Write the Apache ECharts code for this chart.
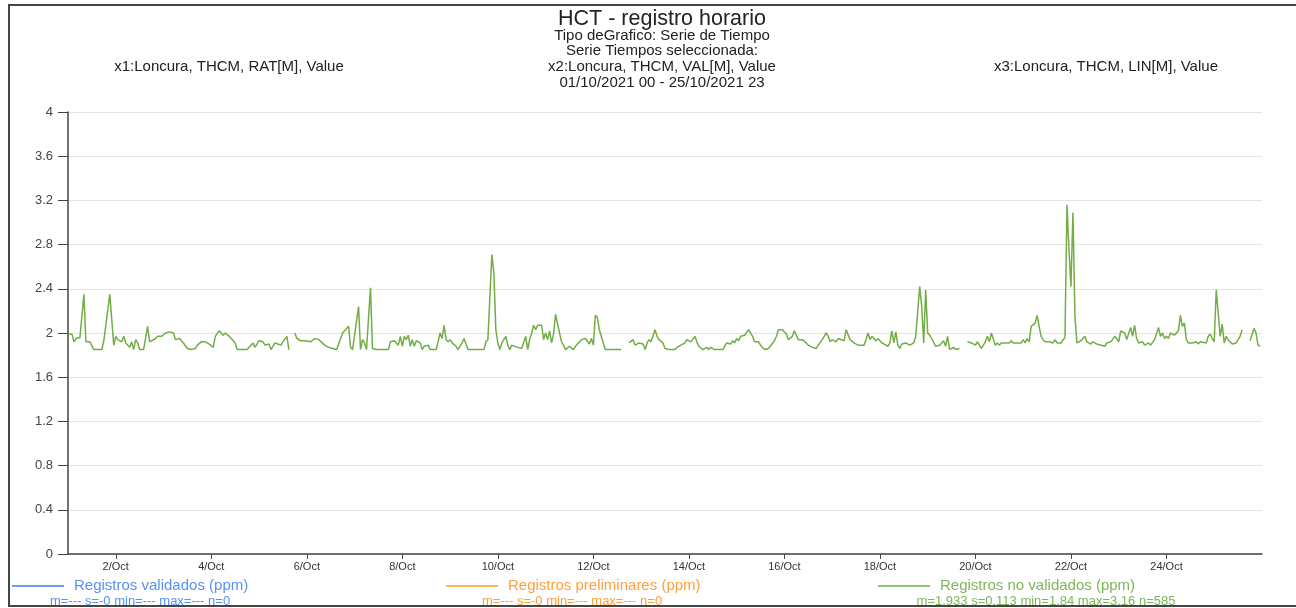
<!DOCTYPE html>
<html>
<head>
<meta charset="utf-8">
<script src="https://cdn.jsdelivr.net/npm/echarts@6/dist/echarts.min.js"></script>
<style>
html,body{margin:0;padding:0;background:#ffffff;}
#chart{width:1296px;height:608px;}
</style>
</head>
<body>
<div id="chart"></div>
<script>
// Hours since 01/10/2021 00:00 (null value = gap in the record)
const hours = [0,2,3,4,5,6,8,9,11,13,17,18,21,23,24,25,26,27,28,29,30,31,32,33,34,35,36,38,40,41,42,44,45,47,48,49,51,53,54,56,58,60,62,64,65,67,69,71,73,74,76,78,79,81,82,84,85,90,91,93,94,96,98,99,101,102,104,105,107,108,110,111,112,
114,115,117,119,120,122,124,126,127,129,131,132,133,135,136,138,139,141,142,143,144,146,147,148,149,150,152,153,155,161,162,164,165,166,167,168,169,170,171,172,173,174,175,177,178,179,180,181,182,185,186,187,188,189,190,191,192,193,194,195,196,198,199,200,201,209,210,211,213,214,215,216,217,218,220,221,222,223,224,226,227,228,230,231,232,233,234,235,236,238,239,240,241,242,243,244,245,247,248,249,250,252,253,254,255,256,258,259,260,262,263,264,265,266,267,269,270,278,279,
282,283,284,285,287,288,289,290,291,292,293,295,296,297,299,300,302,305,306,307,308,310,311,312,313,315,316,317,318,319,321,322,323,324,325,329,330,331,333,334,335,336,337,338,339,340,341,342,344,345,347,348,350,352,353,355,356,357,359,360,361,362,364,365,367,368,369,371,372,374,376,377,379,381,382,383,384,386,387,388,390,391,393,394,395,397,398,400,401,402,403,404,406,407,408,409,410,412,413,414,415,416,417,418,419,421,423,425,426,427,428,429,430,431,432,433,434,436,437,438,439,440,441,442,443,444,445,446,447,448,449,
452,454,455,456,457,458,459,460,461,462,463,464,465,466,467,468,469,471,473,474,475,477,479,480,481,482,483,484,485,486,487,488,489,490,491,493,495,496,497,499,500,501,502,503,504,505,506,507,508,509,510,511,512,513,514,515,517,518,519,521,522,523,524,526,527,528,529,531,532,533,534,535,536,537,538,540,541,543,544,546,547,548,549,550,551,552,553,554,556,557,558,559,560,561,562,563,565,567,568,569,570,572,573,574,575,576,577,579,580,581,582,583,584,585,587,588,589,590,591,
594,596,597,598,599];

const noValidados = [1.99,1.99,1.92,1.95,1.955,1.96,2.35,1.92,1.92,1.85,1.85,1.93,2.35,1.89,1.97,1.94,1.95,1.92,1.97,1.91,1.92,1.87,1.92,1.85,1.94,1.91,1.85,1.85,2.06,1.92,1.93,1.95,1.97,1.97,1.98,2.0,2.01,2.0,1.94,1.95,1.91,1.86,1.85,1.86,1.89,1.92,1.92,1.90,1.87,1.97,2.02,1.98,2.0,1.97,1.97,1.91,1.85,1.85,1.87,1.91,1.87,1.93,1.92,1.89,1.90,1.85,1.91,1.92,1.89,1.92,1.97,1.85,null,
2.0,1.95,1.93,1.93,1.93,1.92,1.95,1.94,1.93,1.89,1.87,1.88,1.86,1.85,1.85,2.0,2.0,2.06,1.87,1.85,1.85,2.24,1.85,1.94,1.91,1.85,2.41,1.86,1.85,1.85,1.92,1.93,1.94,1.89,1.97,1.88,1.97,1.94,1.98,1.88,1.94,1.88,1.93,1.91,1.85,1.88,1.87,1.89,1.85,1.85,1.92,2.0,1.95,2.07,1.94,1.92,1.94,1.91,1.92,1.88,1.85,1.91,1.95,1.96,1.85,1.85,1.92,1.94,2.71,2.54,2.03,1.91,1.85,1.91,1.97,1.89,1.85,1.89,1.88,1.87,1.88,1.86,1.97,1.85,1.94,2.0,2.07,2.03,2.07,2.07,1.94,2.0,1.94,2.02,1.91,1.99,2.17,2.0,1.92,1.89,1.85,1.88,1.89,1.85,1.88,1.89,1.94,1.94,1.95,1.90,1.95,1.89,2.16,2.14,2.03,1.91,1.85,1.85,null,
1.91,1.92,1.94,1.89,1.91,1.90,1.90,1.85,1.91,1.94,1.92,2.03,1.97,1.94,1.91,1.86,1.85,1.85,1.87,1.87,1.89,1.91,1.94,1.94,1.92,1.97,1.92,1.88,1.89,1.85,1.87,1.85,1.87,1.88,1.85,1.85,1.88,1.91,1.90,1.93,1.91,1.95,1.93,1.97,1.96,1.98,1.97,2.03,1.97,1.92,1.92,1.89,1.85,1.86,1.87,1.93,1.97,2.03,2.03,2.01,1.99,1.94,1.97,2.02,1.94,1.95,1.94,1.91,1.89,1.87,1.86,1.89,1.94,2.0,1.97,1.92,1.94,1.92,1.95,1.94,1.93,2.03,1.94,1.93,1.91,1.89,1.90,1.89,1.94,2.0,1.94,1.97,1.93,1.95,1.94,1.91,1.90,1.88,1.91,2.02,1.91,2.01,1.89,1.86,1.90,1.91,1.89,1.91,1.97,1.97,2.42,2.24,1.91,2.39,2.0,1.98,1.95,1.88,1.87,1.89,1.88,1.93,1.88,1.97,1.85,1.86,1.87,1.85,1.86,1.86,null,
1.92,1.91,1.92,1.89,1.92,1.89,1.86,1.89,1.92,1.97,1.92,2.0,2.01,1.89,1.91,1.89,1.91,1.91,1.91,1.93,1.91,1.91,1.91,1.94,1.91,1.95,1.92,2.06,2.06,2.09,2.16,2.06,1.97,1.94,1.92,1.92,1.91,1.94,1.91,1.91,1.92,1.96,3.16,2.75,2.42,3.09,2.15,1.91,1.92,1.93,1.95,1.97,1.92,1.93,1.90,1.92,1.90,1.91,1.89,1.88,1.91,1.92,1.92,1.97,1.95,1.92,2.02,2.0,1.94,1.95,2.05,1.97,2.07,1.95,1.91,1.92,1.89,1.91,1.89,1.94,1.95,2.05,1.97,2.0,1.95,1.97,1.95,2.0,1.98,2.0,2.02,2.16,2.06,2.09,1.94,1.91,1.91,1.92,1.90,1.92,1.91,1.91,1.97,1.99,1.95,1.92,2.39,1.97,2.08,1.91,1.97,1.94,1.92,1.90,1.91,1.92,1.97,2.03,null,
1.93,2.04,2.0,1.89,1.88];

const validados = [];
const preliminares = [];

const xTickHours = [24,72,120,168,216,264,312,360,408,456,504,552];
const monthLabel = 'Oct';

const titleText = 'HCT - registro horario';
const subLines = ['Tipo deGrafico: Serie de Tiempo', 'Serie Tiempos seleccionada:', 'x2:Loncura, THCM, VAL[M], Value', '01/10/2021 00 - 25/10/2021 23'];
const x1Text = 'x1:Loncura, THCM, RAT[M], Value';
const x3Text = 'x3:Loncura, THCM, LIN[M], Value';
const seriesNames = ['Registros validados (ppm)', 'Registros preliminares (ppm)', 'Registros no validados (ppm)'];
const statsTexts = ['m=--- s=-0 min=--- max=--- n=0', 'm=--- s=-0 min=--- max=--- n=0', 'm=1.933 s=0.113 min=1.84 max=3.16 n=585'];

const lineColors = ['#3c7ff0', '#ff9a22', '#72ad45'];
const textColors = ['#5b8ff2', '#ff9f3a', '#7cb658'];

const FONT = '"Liberation Sans", Arial, sans-serif';

const greenData = hours.map((h, i) => [h, noValidados[i]]);

const chart = echarts.init(document.getElementById('chart'));

const graphics = [
  { type: 'rect', shape: { x: 9, y: 5, width: 1300, height: 601 }, style: { fill: 'none', stroke: '#444', lineWidth: 2 }, silent: true },
  { type: 'text', x: 662, y: 19, style: { text: titleText, font: '21.5px ' + FONT, fill: '#222', textAlign: 'center', textVerticalAlign: 'middle' } },
  { type: 'text', x: 229, y: 67, style: { text: x1Text, font: '15px ' + FONT, fill: '#222', textAlign: 'center', textVerticalAlign: 'middle' } },
  { type: 'text', x: 1106, y: 67, style: { text: x3Text, font: '15px ' + FONT, fill: '#222', textAlign: 'center', textVerticalAlign: 'middle' } }
];
const subY = [35.5, 51, 67, 82.5];
subLines.forEach((t, i) => {
  graphics.push({ type: 'text', x: 662, y: subY[i], style: { text: t, font: '15px ' + FONT, fill: '#222', textAlign: 'center', textVerticalAlign: 'middle' } });
});
const statsX = [140, 572, 1046];
statsTexts.forEach((t, i) => {
  graphics.push({ type: 'text', x: statsX[i], y: 601, style: { text: t, font: '13px ' + FONT, fill: textColors[i], textAlign: 'center', textVerticalAlign: 'middle' } });
});

const legendLefts = [12, 446, 878];
const legends = seriesNames.map((n, i) => ({
  data: [{ name: n, icon: 'rect', textStyle: { color: textColors[i] } }],
  left: legendLefts[i],
  top: 577,
  orient: 'horizontal',
  padding: 0,
  itemWidth: 52,
  itemHeight: 1.5,
  itemStyle: { color: lineColors[i] },
  textStyle: { fontSize: 15, fontFamily: FONT, lineHeight: 18, padding: [0, 0, 0, 5] },
  selectedMode: false
}));

chart.setOption({
  animation: false,
  backgroundColor: '#ffffff',
  graphic: graphics,
  legend: legends,
  grid: { left: 68, right: 34, top: 112, bottom: 54, containLabel: false },
  xAxis: {
    type: 'value',
    min: 0,
    max: 600,
    splitLine: { show: false },
    axisLine: { lineStyle: { color: '#444', width: 1.5 } },
    axisTick: { show: true, length: 5, customValues: xTickHours, lineStyle: { color: '#444' } },
    axisLabel: {
      customValues: xTickHours,
      formatter: v => (1 + Math.round(v / 24)) + '/' + monthLabel,
      fontSize: 11, fontFamily: FONT, color: '#333', margin: 7
    }
  },
  yAxis: {
    type: 'value',
    min: 0,
    max: 4,
    interval: 0.4,
    axisLine: { show: true, lineStyle: { color: '#444', width: 1.5 } },
    axisTick: { show: true, length: 10, lineStyle: { color: '#444' } },
    axisLabel: {
      formatter: v => String(+v.toFixed(1)),
      fontSize: 13, fontFamily: FONT, color: '#444', margin: 15
    },
    splitLine: { show: true, lineStyle: { color: '#e4e4e4', width: 1 } }
  },
  series: [
    { name: seriesNames[0], type: 'line', data: validados, showSymbol: false, lineStyle: { color: lineColors[0], width: 1.5 }, itemStyle: { color: lineColors[0] } },
    { name: seriesNames[1], type: 'line', data: preliminares, showSymbol: false, lineStyle: { color: lineColors[1], width: 1.5 }, itemStyle: { color: lineColors[1] } },
    { name: seriesNames[2], type: 'line', data: greenData, showSymbol: false, connectNulls: false, lineStyle: { color: lineColors[2], width: 1.5 }, itemStyle: { color: lineColors[2] } }
  ]
});
</script>
</body>
</html>
